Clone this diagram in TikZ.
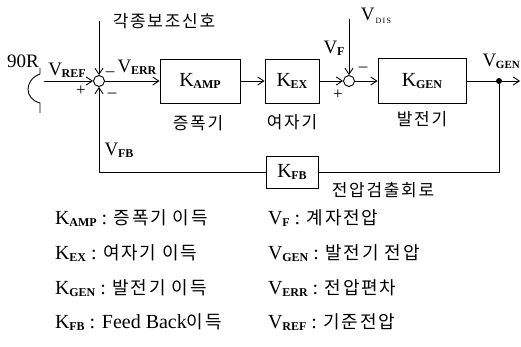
\documentclass[tikz,border=0pt]{standalone}
\usepackage{fontspec}
\setmainfont{Liberation Serif}
\newfontfamily\kr[LetterSpace=10]{Noto Sans CJK KR}
\usetikzlibrary{arrows.meta}
\newcommand\lb[2]{#1\kern-0.3pt\raisebox{-2pt}{\fontsize{12}{12}\bfseries\selectfont #2}}
\tikzset{
  blk/.style={draw, line width=0.9pt, inner sep=0pt, font=\fontsize{20}{20}\selectfont},
  sum/.style={draw, circle, line width=0.9pt, inner sep=0pt, minimum size=11pt},
  wire/.style={line width=0.9pt},
  arr/.style={wire, -{Straight Barb[length=6pt,width=8pt,line width=0.9pt]}},
  lt/.style={font=\fontsize{19}{19}\selectfont, inner sep=0pt},
  kt/.style={font=\kr\fontsize{17}{17}\selectfont, inner sep=0pt},
  sg/.style={font=\fontsize{17}{17}\selectfont, inner sep=0pt},
  lg/.style={anchor=west, inner sep=0pt, font=\fontsize{20}{20}\selectfont},
}
\begin{document}
\begin{tikzpicture}[x=1pt,y=-1pt]
\useasboundingbox (0,0) rectangle (521,347);
% blocks
\node[sum] (s1) at (99,81) {};
\node[blk, minimum width=80pt, minimum height=44pt] (amp) at (200,81) {\lb{K}{AMP}};
\node[blk, minimum width=54pt, minimum height=44pt] (ex) at (292,81) {\lb{K}{EX}};
\node[sum] (s2) at (349,81) {};
\node[blk, minimum width=88pt, minimum height=45pt] (gen) at (422,81) {\lb{K}{GEN}};
\node[blk, minimum width=52pt, minimum height=32pt] (fb) at (292,172) {\lb{K}{FB}};
\node[circle, fill, inner sep=0pt, minimum size=6pt] (dot) at (499,81) {};
\coordinate (out) at (520,81);
\coordinate (top1) at (99,21);
\coordinate (top2) at (349,19);
\coordinate (sw) at (44,81);
\coordinate (c1) at (499,172);
\coordinate (c2) at (99,172);
% switch 90R
\draw[wire] (40,68) -- (40,74) .. controls (24,80) and (24,99) .. (40,103) -- (40,113);
% connectors
\draw[arr] (sw) -- (s1);
\draw[arr] (top1) -- (s1);
\draw[arr] (s1) -- (amp);
\draw[arr] (amp) -- (ex);
\draw[arr] (ex) -- (s2);
\draw[arr] (top2) -- (s2);
\draw[arr] (s2) -- (gen);
\draw[wire] (gen) -- (dot);
\draw[arr] (dot) -- (out);
\draw[wire] (dot) -- (c1) -- (fb);
\draw[arr] (fb) -- (c2) -- (s1);
% labels
\node[lt] (l90) at (23,61) {90R};
\node[lt] (lref) at (67,70) {\lb{V}{REF}};
\node[lt] (lerr) at (137,67) {\lb{V}{ERR}};
\node[sg] (m1) at (110,72) {\_};
\node[sg] (p1) at (81,91) {+};
\node[sg] (m2) at (112,95) {\textendash};
\node[lt] (lfb) at (119,150) {\lb{V}{FB}};
\node[kt] (laux) at (164,21) {각종보조신호};
\node[kt] (lamp) at (198,123) {증폭기};
\node[kt] (lex) at (292,122) {여자기};
\node[kt] (lgen) at (422,119) {발전기};
\node[kt] (ldet) at (383,190) {전압검출회로};
\node[lt] (lvf) at (334,48) {\lb{V}{F}};
\node[lt] (ldis) at (376,16) {V\kern1pt\raisebox{-3pt}{\fontsize{8}{8}\selectfont D\,I\,S}};
\node[sg] (m3) at (363,69) {\textendash};
\node[sg] (p2) at (338,95) {+};
\node[lt, anchor=east] (lvgen) at (520,61) {V\kern-0.3pt\raisebox{-2pt}{\fontsize{11}{11}\bfseries\selectfont GEN}};
% legend
\node[lg] (g1) at (55,218) {\lb{K}{AMP} : {\kr\fontsize{18}{18}\selectfont 증폭기 이득}};
\node[lg] (g2) at (55,253) {\lb{K}{EX} : {\kr\fontsize{18}{18}\selectfont 여자기 이득}};
\node[lg] (g3) at (55,288) {\lb{K}{GEN} : {\kr\fontsize{18}{18}\selectfont 발전기 이득}};
\node[lg] (g4) at (55,322) {\lb{K}{FB} : Feed Back{\kr\fontsize{18}{18}\selectfont 이득}};
\node[lg] (h1) at (268,218) {\lb{V}{F} : {\kr\fontsize{18}{18}\selectfont 계자전압}};
\node[lg] (h2) at (268,253) {\lb{V}{GEN} : {\kr\fontsize{18}{18}\selectfont 발전기 전압}};
\node[lg] (h3) at (268,288) {\lb{V}{ERR} : {\kr\fontsize{18}{18}\selectfont 전압편차}};
\node[lg] (h4) at (268,322) {\lb{V}{REF} : {\kr\fontsize{18}{18}\selectfont 기준전압}};
\end{tikzpicture}
\end{document}
